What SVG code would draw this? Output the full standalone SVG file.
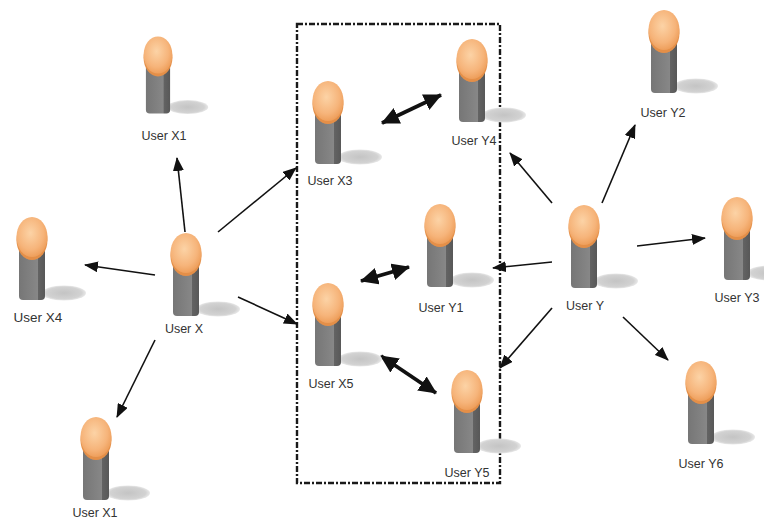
<svg xmlns="http://www.w3.org/2000/svg" width="764" height="527" viewBox="0 0 764 527">
<style>
.lbl{font-family:"Liberation Sans","DejaVu Sans",sans-serif;font-size:12.5px;fill:#333333;text-anchor:middle}
.arr{stroke:#111;stroke-width:1.6;fill:none;marker-end:url(#ah)}
.darr{stroke:#111;stroke-width:3.8;fill:none;marker-end:url(#dh);marker-start:url(#dh)}
.box{fill:none;stroke:#1a1a1a;stroke-width:2.4;stroke-dasharray:6 2 2 2}
</style>
<defs>
<radialGradient id="headG" cx="0.45" cy="0.4" r="0.6">
<stop offset="0" stop-color="#fcd3a6"/>
<stop offset="0.7" stop-color="#f6b47a"/>
<stop offset="1" stop-color="#ee9f5c"/>
</radialGradient>
<radialGradient id="shG" cx="0.5" cy="0.5" r="0.5">
<stop offset="0" stop-color="#c4c4c4"/>
<stop offset="0.8" stop-color="#d2d2d2"/>
<stop offset="1" stop-color="#e8e8e8"/>
</radialGradient>
<linearGradient id="bodyG" x1="0" y1="0" x2="1" y2="0">
<stop offset="0" stop-color="#767676"/>
<stop offset="0.72" stop-color="#878787"/>
<stop offset="0.74" stop-color="#636363"/>
<stop offset="1" stop-color="#585858"/>
</linearGradient>
<g id="person">
<ellipse cx="32" cy="56" rx="22" ry="7.5" fill="url(#shG)"/>
<path d="M-13,14 L13,14 L13,59 Q13,63 9,63 L-9,63 Q-13,63 -13,59 Z" fill="url(#bodyG)"/>
<ellipse cx="0" cy="3" rx="15.5" ry="20" fill="#e48f48"/>
<ellipse cx="0" cy="0" rx="15.5" ry="20" fill="url(#headG)"/>
</g>
<marker id="ah" markerUnits="userSpaceOnUse" viewBox="0 0 14 11" refX="13" refY="5.5" markerWidth="14" markerHeight="11" orient="auto-start-reverse">
<path d="M0,0 L14,5.5 L0,11 Z" fill="#111"/>
</marker>
<marker id="dh" markerUnits="userSpaceOnUse" viewBox="0 0 18 17" refX="17" refY="8.5" markerWidth="18" markerHeight="17" orient="auto-start-reverse">
<path d="M0,0 L18,8.5 L0,17 Z" fill="#111"/>
</marker>
</defs>
<rect width="764" height="527" fill="#ffffff"/>
<rect id="group-box" class="box" x="297" y="24" width="203" height="459"/>
<g id="connectors">
<line class="arr" x1="185" y1="232" x2="177" y2="158"/>
<line class="arr" x1="155" y1="275" x2="85" y2="265"/>
<line class="arr" x1="218" y1="232" x2="296" y2="168"/>
<line class="arr" x1="238" y1="297" x2="297" y2="324"/>
<line class="arr" x1="155" y1="340" x2="117" y2="417"/>
<line class="arr" x1="552" y1="203" x2="510" y2="153"/>
<line class="arr" x1="602" y1="203" x2="635" y2="125"/>
<line class="arr" x1="637" y1="246" x2="705" y2="238"/>
<line class="arr" x1="552" y1="262" x2="493" y2="268"/>
<line class="arr" x1="552" y1="308" x2="500" y2="368"/>
<line class="arr" x1="623" y1="317" x2="668" y2="360"/>
<line class="darr" x1="382" y1="123" x2="441" y2="95"/>
<line class="darr" x1="361" y1="281" x2="409" y2="267"/>
<line class="darr" x1="381" y1="356" x2="436" y2="393"/>
</g>
<g id="user-x1-top"><use href="#person" transform="translate(158,55) scale(0.93)"/><text class="lbl" x="164" y="140">User X1</text></g>
<g id="user-x4"><use href="#person" transform="translate(32,237)"/><text class="lbl" x="38" y="322" style="font-size:13.5px">User X4</text></g>
<g id="user-x"><use href="#person" transform="translate(186,253)"/><text class="lbl" x="184" y="333">User X</text></g>
<g id="user-x1-bottom"><use href="#person" transform="translate(96,437)"/><text class="lbl" x="95" y="517">User X1</text></g>
<g id="user-x3"><use href="#person" transform="translate(328,101)"/><text class="lbl" x="330" y="185">User X3</text></g>
<g id="user-y4"><use href="#person" transform="translate(472,59)"/><text class="lbl" x="474" y="145">User Y4</text></g>
<g id="user-y1"><use href="#person" transform="translate(440,224)"/><text class="lbl" x="441" y="312">User Y1</text></g>
<g id="user-x5"><use href="#person" transform="translate(328,303)"/><text class="lbl" x="331" y="388">User X5</text></g>
<g id="user-y5"><use href="#person" transform="translate(467,390)"/><text class="lbl" x="467" y="477">User Y5</text></g>
<g id="user-y"><use href="#person" transform="translate(584,225)"/><text class="lbl" x="585" y="310">User Y</text></g>
<g id="user-y2"><use href="#person" transform="translate(664,30)"/><text class="lbl" x="663" y="117">User Y2</text></g>
<g id="user-y3"><use href="#person" transform="translate(737,217)"/><text class="lbl" x="737" y="302">User Y3</text></g>
<g id="user-y6"><use href="#person" transform="translate(701,381)"/><text class="lbl" x="701" y="468">User Y6</text></g>
</svg>
